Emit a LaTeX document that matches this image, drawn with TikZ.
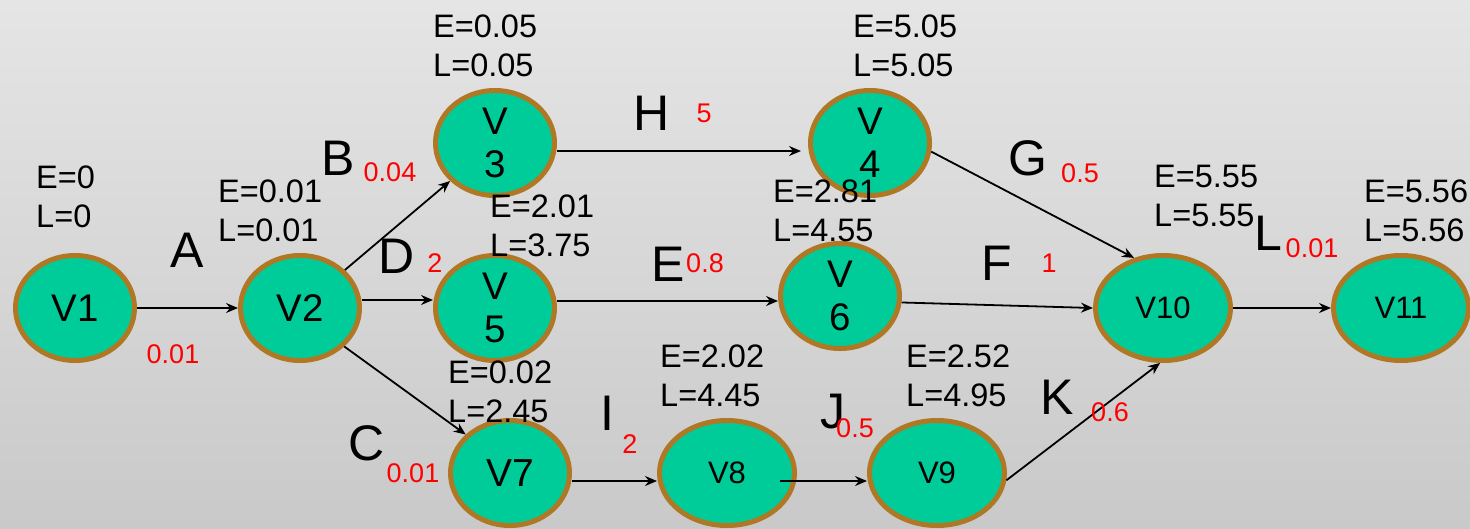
\documentclass[tikz,border=0pt]{standalone}
\usepackage{fontspec}
\setmainfont{Liberation Sans}
\usetikzlibrary{shapes.geometric,arrows.meta}
\definecolor{grn}{RGB}{0,204,153}
\definecolor{brd}{RGB}{176,120,36}
\definecolor{bgtop}{RGB}{229,229,229}
\definecolor{bgbot}{RGB}{201,201,201}
\tikzset{
  vtx/.style={ellipse, draw=brd, fill=grn, line width=5pt, inner sep=0pt,
    minimum width=119pt, minimum height=105pt, align=center,
    font=\fontsize{38.5}{43}\selectfont},
  vtxw/.style={vtx, minimum width=135pt, font=\fontsize{31}{36}\selectfont},
  el/.style={anchor=west, align=left, inner sep=0pt, font=\fontsize{32.5}{39}\selectfont},
  act/.style={inner sep=0pt, font=\fontsize{50}{50}\selectfont},
  dur/.style={inner sep=0pt, text=red, font=\fontsize{27}{27}\selectfont},
  arr/.style={-{Stealth[length=12pt,width=10pt,inset=4pt]}, line width=1.8pt}
}
\begin{document}
\begin{tikzpicture}[x=1pt,y=-1pt]
\useasboundingbox (0,0) rectangle (1470,528);
\fill[top color=bgtop, bottom color=bgbot] (0,0) rectangle (1470,528);

% vertices
\node[vtx] (v1) at (75,308) {V1};
\node[vtx] (v2) at (300,308) {V2};
\node[vtx] (v3) at (495,143) {V\\3};
\node[vtx] (v5) at (495,308) {V\\5};
\node[vtx, font=\fontsize{39}{43}\selectfont] (v7) at (510,473) {V7};
\node[vtxw] (v8) at (727,473) {V8};
\node[vtxw] (v9) at (937,473) {V9};
\node[vtx] (v4) at (870,143) {V\\4};
\node[vtx] (v6) at (840,296) {V\\6};
\node[vtxw] (v10) at (1163,308) {V10};
\node[vtxw] (v11) at (1401,308) {V11};

% connectors
\draw[arr] (v1) -- (v2);
\draw[arr] (v2) -- (v3);
\draw[arr] ([yshift=8pt]v2.east) -- ([yshift=8pt]v5.west);
\draw[arr] (v2.-41) -- (v7.139);
\draw[arr] ([yshift=-8pt]v3.east) -- ([yshift=-8pt,xshift=-7pt]v4.west);
\draw[arr] ([yshift=7pt]v5.east) coordinate (s56) -- (s56 -| v6.west);
\draw[arr] (v4.-8) -- (v10.120);
\draw[arr] (v6.-6) -- (v10.west);
\draw[arr] ([yshift=-8pt]v7.east) -- ([yshift=-8pt]v8.west);
\draw[arr] ([yshift=-8pt,xshift=-17pt]v8.east) -- ([yshift=-8pt]v9.west);
\draw[arr] (v9.-6) -- (v10.-93);
\draw[arr] (v10) -- (v11);

% E/L labels
\node[el] (el1) at (36,197) {E=0\\L=0};
\node[el] (el2) at (218,211) {E=0.01\\L=0.01};
\node[el] (el3) at (433,46) {E=0.05\\L=0.05};
\node[el] (el5) at (490,226) {E=2.01\\L=3.75};
\node[el] (el7) at (448,392) {E=0.02\\L=2.45};
\node[el] (el8) at (660,376) {E=2.02\\L=4.45};
\node[el] (el9) at (906,376) {E=2.52\\L=4.95};
\node[el] (el4) at (853,46) {E=5.05\\L=5.05};
\node[el] (el6) at (773,211) {E=2.81\\L=4.55};
\node[el] (el10) at (1154,196) {E=5.55\\L=5.55};
\node[el] (el11) at (1364,211) {E=5.56\\L=5.56};

% activity letters
\node[act] (la) at (187,250) {A};
\node[act] (lb) at (338,158) {B};
\node[act] (lc) at (367,443) {C};
\node[act] (ld) at (397,256) {D};
\node[act] (le) at (668,264) {E};
\node[act] (lf) at (997,263) {F};
\node[act] (lg) at (1028,158) {G};
\node[act] (lh) at (652,113) {H};
\node[act] (li) at (607,413) {I};
\node[act] (lj) at (833,412) {J};
\node[act] (lk) at (1057,397) {K};
\node[act] (ll) at (1268,233) {L};

% durations
\node[dur] (da) at (173,354) {0.01};
\node[dur] (db) at (390,172) {0.04};
\node[dur] (dc) at (413,473) {0.01};
\node[dur] (dd) at (435,263) {2};
\node[dur] (de) at (705,263) {0.8};
\node[dur] (df) at (1049,263) {1};
\node[dur] (dg) at (1080,173) {0.5};
\node[dur] (dh) at (704,113) {5};
\node[dur] (di) at (630,444) {2};
\node[dur] (dj) at (855,428) {0.5};
\node[dur] (dk) at (1110,412) {0.6};
\node[dur] (dl) at (1312,248) {0.01};
\end{tikzpicture}
\end{document}
